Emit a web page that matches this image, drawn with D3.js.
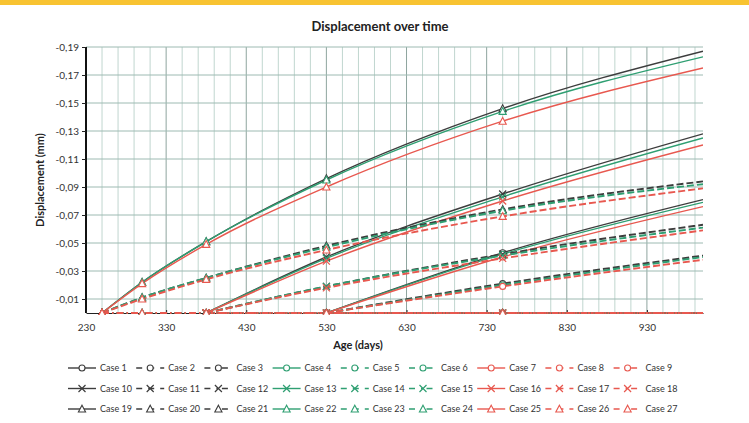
<!DOCTYPE html>
<html>
<head>
<meta charset="utf-8">
<script src="https://cdn.jsdelivr.net/npm/d3@7"></script>
<style>
  body { margin: 0; background: #fff; }
  svg { display: block; font-family: Lato, "Open Sans", sans-serif; }
</style>
</head>
<body>
<div id="chart"></div>
<script>
// x values (age in days) for each marker family
var daysTriangle = [250, 300, 380, 530, 750, 1000];
var daysCross = [380, 530, 750, 1000];
var daysCircle = [530, 750, 1000];

// displacement values (mm)
var circleCases = [                       // cases 1..9
    [0, -0.043, -0.081],
    [0, -0.021, -0.041],
    [0, 0, 0],
    [0, -0.042, -0.079],
    [0, -0.020, -0.040],
    [0, 0, 0],
    [0, -0.040, -0.076],
    [0, -0.019, -0.038],
    [0, 0, 0]
];
var crossCases = [                        // cases 10..18
    [0, -0.040, -0.085, -0.128],
    [0, -0.019, -0.042, -0.063],
    [0, 0, 0, 0],
    [0, -0.039, -0.083, -0.125],
    [0, -0.019, -0.041, -0.061],
    [0, 0, 0, 0],
    [0, -0.037, -0.080, -0.120],
    [0, -0.018, -0.039, -0.059],
    [0, 0, 0, 0]
];
var triangleCases = [                     // cases 19..27
    [0, -0.022, -0.051, -0.096, -0.146, -0.187],
    [0, -0.011, -0.025, -0.048, -0.074, -0.094],
    [0, 0, 0, 0, 0, 0],
    [0, -0.022, -0.051, -0.095, -0.144, -0.183],
    [0, -0.011, -0.025, -0.047, -0.073, -0.092],
    [0, 0, 0, 0, 0, 0],
    [0, -0.021, -0.049, -0.090, -0.137, -0.175],
    [0, -0.010, -0.024, -0.045, -0.069, -0.089],
    [0, 0, 0, 0, 0, 0]
];

var yTicks = [-0.01, -0.03, -0.05, -0.07, -0.09, -0.11, -0.13, -0.15, -0.17, -0.19];
var xTicks = [230, 330, 430, 530, 630, 730, 830, 930];

var colors = ['#3d3d3d', '#2f9f72', '#e8584f'];
var dashes = [null, '7,3', '7,3,1.5,3'];

// build series list in legend order
var series = [];
[[circleCases, daysCircle, 'circle'], [crossCases, daysCross, 'cross'], [triangleCases, daysTriangle, 'triangle']]
    .forEach(function(grp, g) {
        grp[0].forEach(function(vals, k) {
            series.push({
                name: 'Case ' + (g * 9 + k + 1),
                marker: grp[2],
                color: colors[Math.floor(k / 3)],
                dash: dashes[k % 3],
                points: vals.map(function(v, i) { return { x: grp[1][i], y: v }; })
            });
        });
    });

var W = 749, H = 423;
var svg = d3.select('#chart').append('svg').attr('width', W).attr('height', H);

svg.append('rect').attr('x', 0).attr('y', 0).attr('width', W).attr('height', 5).attr('fill', '#f8c331');

var x = d3.scaleLinear().domain([230, 1000]).range([86, 703]);
var y = d3.scaleLinear().domain([0, -0.19]).range([313, 47]);

svg.append('text')
    .attr('x', 380).attr('y', 31)
    .attr('text-anchor', 'middle')
    .style('font-size', '13px').style('font-weight', 'bold').attr('fill', '#222')
    .text('Displacement over time');

// gridlines
var grid = svg.append('g');
d3.range(250, 1000, 20).forEach(function(d) {
    var major = (d - 230) % 100 === 0;
    grid.append('line')
        .attr('x1', x(d)).attr('x2', x(d)).attr('y1', y(-0.19)).attr('y2', y(0))
        .attr('stroke', major ? '#8fa59f' : '#c0d6cf').attr('stroke-width', 1);
});
yTicks.forEach(function(d) {
    grid.append('line')
        .attr('x1', x(230)).attr('x2', x(1000)).attr('y1', y(d)).attr('y2', y(d))
        .attr('stroke', '#9dbab2').attr('stroke-width', 1);
});

// axes
var fmt = function(d) { return d3.format('.2f')(d).replace('.', ',').replace('−', '-'); };
var yAxis = svg.append('g').attr('transform', 'translate(' + x(230) + ',0)')
    .call(d3.axisLeft(y).tickValues(yTicks).tickSize(4).tickFormat(fmt));
yAxis.select('.domain').attr('stroke', '#111').attr('stroke-width', 2).attr('d', 'M0,' + y(-0.19) + 'V' + y(0));

var xAxis = svg.append('g').attr('transform', 'translate(0,' + y(0) + ')')
    .call(d3.axisBottom(x).tickValues(xTicks).tickSizeInner(-3).tickSizeOuter(0).tickPadding(11).tickFormat(d3.format('d')));
xAxis.select('.domain').attr('stroke', '#222').attr('stroke-width', 1);

svg.selectAll('.tick text').style('font-size', '10px').attr('fill', '#333').style('font-family', 'Lato, sans-serif');
svg.selectAll('.tick line').attr('stroke', '#222');

svg.append('text')
    .attr('transform', 'translate(44,' + 180 + ') rotate(-90)')
    .attr('text-anchor', 'middle')
    .style('font-size', '11px').style('font-weight', 'bold').attr('fill', '#222')
    .text('Displacement (mm)');

svg.append('text')
    .attr('x', 358).attr('y', 349)
    .attr('text-anchor', 'middle')
    .style('font-size', '11px').style('font-weight', 'bold').attr('fill', '#222')
    .text('Age (days)');

// lines
svg.append('clipPath').attr('id', 'plot')
    .append('rect').attr('x', x(230)).attr('y', y(-0.19) - 2).attr('width', x(1000) - x(230)).attr('height', y(0) - y(-0.19) + 4);

var line = d3.line()
    .x(function(d) { return x(d.x); })
    .y(function(d) { return y(d.y); })
    .curve(d3.curveMonotoneX);

function drawMarker(sel, type, color) {
    if (type === 'circle') {
        sel.append('circle').attr('r', 3).attr('fill', '#fff').attr('stroke', color).attr('stroke-width', 1.1);
    } else if (type === 'cross') {
        sel.append('path').attr('d', 'M-3.5,-3.5L3.5,3.5M-3.5,3.5L3.5,-3.5').attr('stroke', color).attr('stroke-width', 1.2).attr('fill', 'none');
    } else {
        sel.append('path').attr('d', 'M0,-3.8L3.6,3L-3.6,3Z').attr('fill', '#fff').attr('stroke', color).attr('stroke-width', 1.1);
    }
}

var plot = svg.append('g').attr('clip-path', 'url(#plot)');
series.forEach(function(s) {
    plot.append('path')
        .datum(s.points)
        .attr('d', line)
        .attr('fill', 'none')
        .attr('stroke', s.color)
        .attr('stroke-width', s.dash ? 1.9 : 1.4)
        .attr('stroke-dasharray', s.dash);
});
series.forEach(function(s) {
    s.points.filter(function(p) { return p.x < 1000; }).forEach(function(p) {
        var g = plot.append('g').attr('transform', 'translate(' + x(p.x) + ',' + y(p.y) + ')');
        drawMarker(g, s.marker, s.color);
    });
});

// legend
var legend = svg.append('g');
series.forEach(function(s, i) {
    var col = i % 9, row = Math.floor(i / 9);
    var lx = 68 + col * 68.2, ly = 368 + row * 20.5;
    var g = legend.append('g').attr('transform', 'translate(' + lx + ',' + ly + ')');
    g.append('line')
        .attr('x1', 0).attr('x2', 28).attr('y1', 0).attr('y2', 0)
        .attr('stroke', s.color).attr('stroke-width', s.dash ? 1.6 : 1.4)
        .attr('stroke-dasharray', s.dash ? (s.dash === '7,3' ? '6,6' : '6,6,1.5,4') : null);
    var m = g.append('g').attr('transform', 'translate(14,0)');
    drawMarker(m, s.marker, s.color);
    g.append('text')
        .attr('x', 32).attr('y', 3.2)
        .style('font-size', '9px').attr('fill', '#333')
        .text(s.name);
});
</script>
</body>
</html>
